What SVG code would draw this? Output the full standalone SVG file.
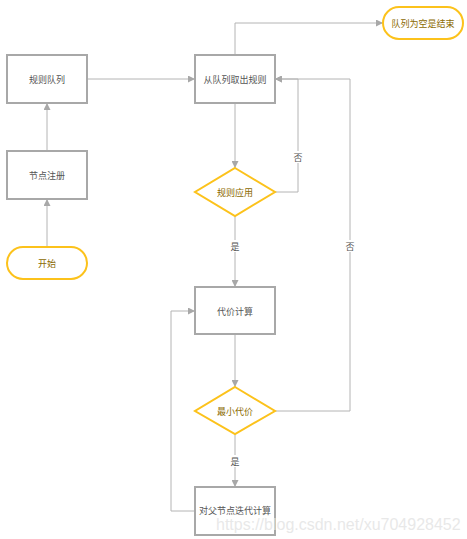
<svg xmlns="http://www.w3.org/2000/svg" width="467" height="539" viewBox="0 0 467 539">
<defs>
<style>
.box{fill:#fff;stroke:#a8a8a8;stroke-width:2}
.yel{fill:#fff;stroke:#fcc21b;stroke-width:2}
.t{font-family:"Noto Sans CJK SC","Liberation Sans",sans-serif;font-size:9px;text-anchor:middle;dominant-baseline:central}
.tg{fill:#555}
.ty{fill:#8b6a00}
.c{fill:none;stroke:#b4b4b4;stroke-width:1}
.lb{fill:#fff}
.wm{font-family:"Liberation Sans",Arial,sans-serif;font-size:16px;fill:#e4e4e4;fill-opacity:0.85}
</style>
<marker id="ah" viewBox="0 0 10 10" refX="10" refY="5" markerWidth="7" markerHeight="7" markerUnits="userSpaceOnUse" orient="auto">
<path d="M0,0 L10,5 L0,10 z" fill="#a8a8a8"/>
</marker>
</defs>
<rect width="467" height="539" fill="#fff"/>
<g id="connectors">
<path class="c" d="M47,247 V199" marker-end="url(#ah)"/>
<path class="c" d="M47,151 V103" marker-end="url(#ah)"/>
<path class="c" d="M87,79 H195" marker-end="url(#ah)"/>
<path class="c" d="M235,55 V23 H383" marker-end="url(#ah)"/>
<path class="c" d="M235,103 V168" marker-end="url(#ah)"/>
<path class="c" d="M275,192 H298 V79 H275" marker-end="url(#ah)"/>
<path class="c" d="M235,216 V287" marker-end="url(#ah)"/>
<path class="c" d="M235,334 V387" marker-end="url(#ah)"/>
<path class="c" d="M275,411 H350 V79 H275" marker-end="url(#ah)"/>
<path class="c" d="M235,434 V487" marker-end="url(#ah)"/>
<path class="c" d="M195,511 H171 V311 H195" marker-end="url(#ah)"/>
<rect class="lb" x="292" y="151" width="12" height="12"/>
<text class="t tg" x="298" y="157">否</text>
<rect class="lb" x="229" y="240" width="12" height="12"/>
<text class="t tg" x="235" y="246">是</text>
<rect class="lb" x="344" y="240" width="12" height="12"/>
<text class="t tg" x="350" y="246">否</text>
<rect class="lb" x="229" y="455" width="12" height="12"/>
<text class="t tg" x="235" y="461">是</text>
</g>
<g id="start">
<rect class="yel" x="7" y="247" width="80" height="32" rx="16"/>
<text class="t ty" x="47" y="263">开始</text>
</g>
<g id="register">
<rect class="box" x="7" y="151" width="80" height="48"/>
<text class="t tg" x="47" y="175">节点注册</text>
</g>
<g id="queue">
<rect class="box" x="7" y="55" width="80" height="48"/>
<text class="t tg" x="47" y="79">规则队列</text>
</g>
<g id="take">
<rect class="box" x="195" y="55" width="80" height="48"/>
<text class="t tg" x="235" y="79">从队列取出规则</text>
</g>
<g id="end">
<rect class="yel" x="383" y="7" width="80" height="32" rx="16"/>
<text class="t ty" x="423" y="23">队列为空是结束</text>
</g>
<g id="apply">
<polygon class="yel" points="235,168 275,192 235,216 195,192"/>
<text class="t ty" x="235" y="192">规则应用</text>
</g>
<g id="cost">
<rect class="box" x="195" y="287" width="80" height="47"/>
<text class="t tg" x="235" y="311">代价计算</text>
</g>
<g id="mincost">
<polygon class="yel" points="235,387 275,411 235,434 195,411"/>
<text class="t ty" x="235" y="411">最小代价</text>
</g>
<g id="parent">
<rect class="box" x="195" y="487" width="80" height="48"/>
<text class="t tg" x="235" y="510">对父节点迭代计算</text>
</g>
<text class="wm" x="216" y="530">https://blog.csdn.net/xu704928452</text>
</svg>
